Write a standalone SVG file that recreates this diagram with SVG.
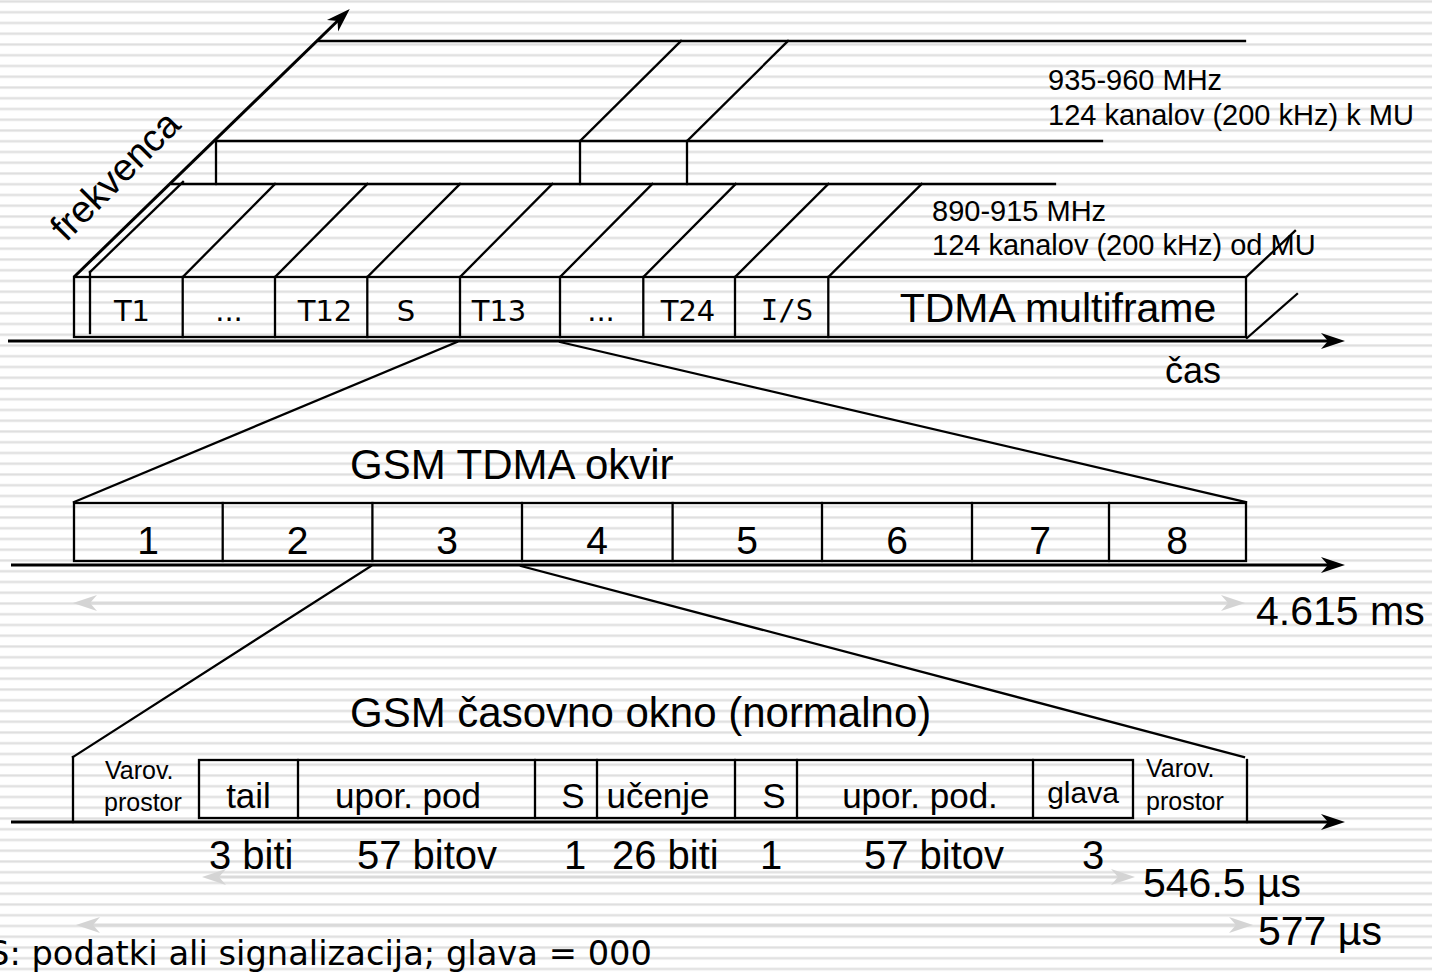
<svg xmlns="http://www.w3.org/2000/svg" width="1432" height="975" viewBox="0 0 1432 975">
<defs>
<pattern id="stripes" patternUnits="userSpaceOnUse" x="0" y="0" width="1432" height="10.75">
<rect width="1432" height="10.75" fill="#ffffff"/>
<rect y="0" width="1432" height="3" fill="#ededed"/>
<rect y="0.8" width="1432" height="1.3" fill="#dfdfdf"/>
</pattern>
<marker id="arr" markerUnits="userSpaceOnUse" markerWidth="30" markerHeight="20" viewBox="-10 -10 30 20" refX="0" refY="0" orient="auto">
<path d="M15,0 L-9,-8 L-2,0 L-9,8 z" fill="#000"/>
</marker>
<marker id="arrg" markerUnits="userSpaceOnUse" markerWidth="30" markerHeight="20" viewBox="-10 -10 30 20" refX="0" refY="0" orient="auto-start-reverse">
<path d="M15,0 L-9,-8 L-2,0 L-9,8 z" fill="#d4d4d4"/>
</marker>
<style>
.ln{stroke:#000;stroke-width:2.3;fill:none;stroke-linecap:square}
.ax{stroke:#000;stroke-width:3;fill:none}
.fa{stroke:#dadada;stroke-width:3;fill:none}
.bx{stroke:#000;stroke-width:2.3;fill:none}
.sa{font-family:"Liberation Sans",Arial,sans-serif;fill:#000}
.dv{font-family:"DejaVu Sans",Verdana,sans-serif;fill:#000}
.mono{font-family:"DejaVu Sans Mono",monospace;fill:#000}
</style>
</defs>
<rect width="1432" height="975" fill="url(#stripes)"/>

<g id="faint-arrows">
<line class="fa" x1="88" y1="603" x2="1230" y2="603" marker-start="url(#arrg)" marker-end="url(#arrg)"/>
<line class="fa" x1="217" y1="877" x2="1120" y2="877" marker-start="url(#arrg)" marker-end="url(#arrg)"/>
<line class="fa" x1="91" y1="925" x2="1238" y2="925" marker-start="url(#arrg)" marker-end="url(#arrg)"/>
</g>

<g id="frequency-planes">
<line class="ln" x1="318" y1="41" x2="1245" y2="41"/>
<line class="ln" x1="580" y1="141" x2="681" y2="41"/>
<line class="ln" x1="687" y1="141" x2="788" y2="41"/>
<line class="ln" x1="216" y1="141" x2="1102" y2="141"/>
<line class="ln" x1="216" y1="141" x2="216" y2="184"/>
<line class="ln" x1="580" y1="141" x2="580" y2="184"/>
<line class="ln" x1="687" y1="141" x2="687" y2="184"/>
<line class="ln" x1="172" y1="184" x2="1055" y2="184"/>
<line class="ln" x1="90" y1="272" x2="183" y2="182"/>
<line class="ln" x1="182.7" y1="277" x2="275" y2="184"/>
<line class="ln" x1="275" y1="277" x2="367.3" y2="184"/>
<line class="ln" x1="367.3" y1="277" x2="460" y2="184"/>
<line class="ln" x1="460" y1="277" x2="552.3" y2="184"/>
<line class="ln" x1="560" y1="277" x2="652.3" y2="184"/>
<line class="ln" x1="643.3" y1="277" x2="735.7" y2="184"/>
<line class="ln" x1="735" y1="277" x2="828.3" y2="184"/>
<line class="ln" x1="828.3" y1="277" x2="921.7" y2="184"/>
<line class="ln" x1="1246" y1="277" x2="1295" y2="231"/>
<line class="ln" x1="1247" y1="338" x2="1297" y2="294"/>
<text class="sa" x="1048" y="90" font-size="29">935-960 MHz</text>
<text class="sa" x="1048" y="125" font-size="29">124 kanalov (200 kHz) k MU</text>
<text class="sa" x="932" y="221" font-size="29">890-915 MHz</text>
<text class="sa" x="932" y="255" font-size="29">124 kanalov (200 kHz) od MU</text>
<text class="sa" x="0" y="0" font-size="38" transform="translate(66,243) rotate(-45)">frekvenca</text>
</g>

<g id="multiframe">
<rect class="bx" x="74" y="277" width="1172" height="60"/>
<line class="ln" x1="90" y1="272" x2="90" y2="333"/>
<line class="ln" x1="182.7" y1="277" x2="182.7" y2="337"/>
<line class="ln" x1="275" y1="277" x2="275" y2="337"/>
<line class="ln" x1="367.3" y1="277" x2="367.3" y2="337"/>
<line class="ln" x1="460" y1="277" x2="460" y2="337"/>
<line class="ln" x1="560" y1="277" x2="560" y2="337"/>
<line class="ln" x1="643.3" y1="277" x2="643.3" y2="337"/>
<line class="ln" x1="735" y1="277" x2="735" y2="337"/>
<line class="ln" x1="828.3" y1="277" x2="828.3" y2="337"/>
<g class="dv" font-size="29" text-anchor="middle">
<text x="132" y="321">T1</text>
<text x="229" y="321">...</text>
<text x="325" y="321">T12</text>
<text x="406" y="321">S</text>
<text x="499" y="321">T13</text>
<text x="601" y="321">...</text>
<text x="688" y="321">T24</text>
</g>
<text class="mono" x="787" y="320" font-size="29" text-anchor="middle">I/S</text>
<text class="sa" x="1058" y="322" font-size="41" text-anchor="middle">TDMA multiframe</text>
</g>

<g id="tdma-frame">
<rect class="bx" x="74" y="503" width="1172" height="58"/>
<line class="ln" x1="222.7" y1="503" x2="222.7" y2="561"/>
<line class="ln" x1="372.4" y1="503" x2="372.4" y2="561"/>
<line class="ln" x1="522" y1="503" x2="522" y2="561"/>
<line class="ln" x1="672.6" y1="503" x2="672.6" y2="561"/>
<line class="ln" x1="822" y1="503" x2="822" y2="561"/>
<line class="ln" x1="972" y1="503" x2="972" y2="561"/>
<line class="ln" x1="1109" y1="503" x2="1109" y2="561"/>
<g class="sa" font-size="39" text-anchor="middle">
<text x="148" y="554">1</text>
<text x="297.5" y="554">2</text>
<text x="447" y="554">3</text>
<text x="597" y="554">4</text>
<text x="747" y="554">5</text>
<text x="897" y="554">6</text>
<text x="1040" y="554">7</text>
<text x="1177" y="554">8</text>
</g>
<text class="sa" x="350" y="479" font-size="42">GSM TDMA okvir</text>
</g>

<g id="time-slot">
<line class="ln" x1="73" y1="757" x2="73" y2="822"/>
<rect class="bx" x="199" y="760" width="934" height="58"/>
<line class="ln" x1="298" y1="760" x2="298" y2="818"/>
<line class="ln" x1="535" y1="760" x2="535" y2="818"/>
<line class="ln" x1="597" y1="760" x2="597" y2="818"/>
<line class="ln" x1="735" y1="760" x2="735" y2="818"/>
<line class="ln" x1="797" y1="760" x2="797" y2="818"/>
<line class="ln" x1="1033" y1="760" x2="1033" y2="818"/>
<line class="ln" x1="1247" y1="760" x2="1247" y2="822"/>
<g class="sa" font-size="25">
<text x="105" y="779">Varov.</text>
<text x="104" y="811">prostor</text>
<text x="1146" y="777">Varov.</text>
<text x="1146" y="810">prostor</text>
</g>
<g class="sa" font-size="35">
<text x="248.5" y="808" text-anchor="middle">tail</text>
<text x="408" y="808" text-anchor="middle">upor. pod</text>
<text x="573" y="808" text-anchor="middle">S</text>
<text x="658" y="808" text-anchor="middle">učenje</text>
<text x="774" y="808" text-anchor="middle">S</text>
<text x="920" y="808" text-anchor="middle">upor. pod.</text>
</g>
<text class="sa" x="1083" y="803" font-size="30" text-anchor="middle">glava</text>
<text class="sa" x="350" y="727" font-size="42">GSM časovno okno (normalno)</text>
<g class="sa" font-size="40">
<text x="209" y="869">3 biti</text>
<text x="357" y="869">57 bitov</text>
<text x="564" y="869">1</text>
<text x="612" y="869">26 biti</text>
<text x="760" y="869">1</text>
<text x="864" y="869">57 bitov</text>
<text x="1082" y="869">3</text>
</g>
</g>

<g id="labels" class="sa" font-size="41">
<text x="1165" y="383" font-size="36">čas</text>
<text x="1256" y="625">4.615 ms</text>
<text x="1143" y="897">546.5 µs</text>
<text x="1258" y="945">577 µs</text>
</g>

<g id="connectors">
<line class="ax" x1="74" y1="277" x2="339" y2="19.5" marker-end="url(#arr)"/>
<line class="ax" x1="8" y1="341" x2="1330" y2="341" marker-end="url(#arr)"/>
<line class="ax" x1="11" y1="565" x2="1330" y2="565" marker-end="url(#arr)"/>
<line class="ax" x1="11" y1="822" x2="1330" y2="822" marker-end="url(#arr)"/>
<line class="ln" x1="457" y1="342" x2="74" y2="502"/>
<line class="ln" x1="560" y1="342" x2="1246" y2="502"/>
<line class="ln" x1="371" y1="566" x2="73" y2="757"/>
<line class="ln" x1="521" y1="566" x2="1244" y2="757"/>
</g>

<text class="dv" x="-12" y="965" font-size="34" textLength="664" lengthAdjust="spacingAndGlyphs">S: podatki ali signalizacija; glava = 000</text>
</svg>
